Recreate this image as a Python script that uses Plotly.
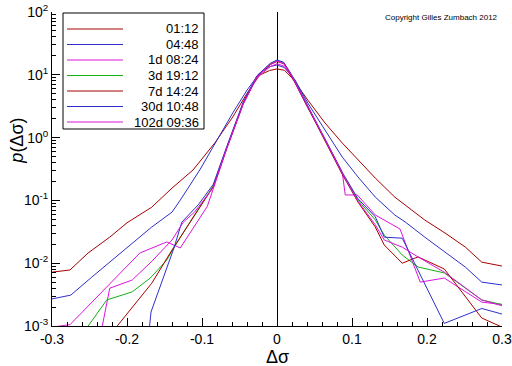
import plotly.graph_objects as go

# ---------------- data ----------------
labels = ["01:12", "04:48", "1d 08:24", "3d 19:12", "7d 14:24", "30d 10:48", "102d 09:36"]
colors = ["#a50000", "#2f2fc8", "#dc14dc", "#14b014", "#a50000", "#2f2fc8", "#dc14dc"]

x_0112 = [-0.3, -0.276, -0.252, -0.223, -0.2, -0.167, -0.14, -0.112, -0.083, -0.059, -0.039, -0.023, -0.01, 0,
          0.01, 0.02, 0.041, 0.064, 0.087, 0.108, 0.131, 0.157, 0.171, 0.197, 0.224, 0.251, 0.273, 0.3]
y_0112 = [0.0072, 0.0078, 0.0145, 0.026, 0.044, 0.078, 0.157, 0.305, 0.82, 2.13, 5.3, 9.9, 11.7, 12.4,
          11.8, 8.9, 3.97, 1.71, 0.82, 0.44, 0.227, 0.113, 0.0845, 0.0487, 0.0303, 0.0181, 0.0104, 0.009]

x_0448 = [-0.3, -0.275, -0.247, -0.22, -0.193, -0.167, -0.14, -0.129, -0.103, -0.08, -0.059, -0.04, -0.023, -0.01, 0,
          0.01, 0.024, 0.041, 0.064, 0.087, 0.108, 0.131, 0.157, 0.171, 0.197, 0.224, 0.251, 0.273, 0.3]
y_0448 = [0.0027, 0.0031, 0.006, 0.0112, 0.021, 0.0377, 0.065, 0.101, 0.305, 0.92, 2.47, 5.7, 10.7, 13.5, 14.3,
          13.0, 8.3, 3.56, 1.32, 0.49, 0.236, 0.113, 0.0586, 0.0453, 0.026, 0.0151, 0.0087, 0.005, 0.0045]

x_1d = [-0.3, -0.276, -0.183, -0.147, -0.129, -0.093, -0.067, -0.045, -0.027, -0.009, 0, 0.009, 0.02, 0.041,
        0.064, 0.087, 0.091, 0.107, 0.131, 0.164, 0.191, 0.223, 0.273, 0.3]
y_1d = [0.00096, 0.00105, 0.0145, 0.0218, 0.0175, 0.08, 0.66, 3.4, 8.9, 13.5, 15.0, 13.8, 9.2, 3.0,
        0.95, 0.28, 0.122, 0.122, 0.0586, 0.035, 0.005, 0.0058, 0.0024, 0.0022]

x_3d = [-0.265, -0.227, -0.193, -0.169, -0.147, -0.137, -0.112, -0.085, -0.067, -0.045, -0.027, -0.009, 0, 0.009,
        0.02, 0.041, 0.064, 0.087, 0.108, 0.131, 0.143, 0.167, 0.188, 0.223, 0.273, 0.3]
y_3d = [0.0006, 0.0026, 0.0035, 0.0058, 0.0112, 0.018, 0.054, 0.17, 0.7, 3.6, 9.4, 15.0, 17.0, 15.6,
        9.6, 3.1, 0.92, 0.27, 0.101, 0.049, 0.028, 0.0135, 0.0087, 0.007, 0.0026, 0.0022]

x_7d = [-0.2215, -0.167, -0.14, -0.112, -0.085, -0.067, -0.045, -0.027, -0.009, 0, 0.009, 0.02, 0.041, 0.064,
        0.087, 0.108, 0.131, 0.143, 0.167, 0.188, 0.223, 0.273, 0.3]
y_7d = [0.00075, 0.0048, 0.0162, 0.054, 0.165, 0.68, 3.5, 9.2, 14.5, 16.3, 15.0, 9.3, 3.0, 0.9,
        0.26, 0.094, 0.0377, 0.0195, 0.01, 0.0126, 0.0081, 0.00134, 0.00096]

x_30d = [-0.1707, -0.168, -0.137, -0.127, -0.105, -0.085, -0.067, -0.045, -0.027, -0.009, 0, 0.009, 0.02, 0.041,
         0.064, 0.087, 0.108, 0.131, 0.143, 0.167, 0.223, 0.273, 0.3]
y_30d = [0.0008, 0.00167, 0.018, 0.045, 0.085, 0.18, 0.72, 3.7, 9.6, 15.2, 17.2, 15.8, 9.8, 3.2,
         0.95, 0.28, 0.106, 0.055, 0.026, 0.025, 0.0011, 0.0019, 0.00155]

x_102d = [-0.2333, -0.223, -0.193, -0.167, -0.14, -0.125, -0.11, -0.085, -0.067, -0.045, -0.027, -0.009, 0, 0.009,
          0.02, 0.041, 0.064, 0.087, 0.107, 0.131, 0.143, 0.167, 0.188, 0.223, 0.273, 0.3]
y_102d = [0.00095, 0.004, 0.0054, 0.0107, 0.0234, 0.045, 0.065, 0.16, 0.68, 3.5, 9.3, 14.8, 16.5, 15.2,
          9.5, 3.05, 0.93, 0.27, 0.101, 0.041, 0.0234, 0.018, 0.0126, 0.0072, 0.0026, 0.0021]

x_ticks = [-0.3, -0.2, -0.1, 0, 0.1, 0.2, 0.3]
x_ticktext = ["-0.3", "-0.2", "-0.1", "0", "0.1", "0.2", "0.3"]
y_ticks = [1e-3, 1e-2, 1e-1, 1e0, 1e1, 1e2]
y_ticktext = ["10<sup>-3</sup>", "10<sup>-2</sup>", "10<sup>-1</sup>", "10<sup>0</sup>", "10<sup>1</sup>", "10<sup>2</sup>"]

series_x = [x_0112, x_0448, x_1d, x_3d, x_7d, x_30d, x_102d]
series_y = [y_0112, y_0448, y_1d, y_3d, y_7d, y_30d, y_102d]

FONT = "Liberation Sans, Arial, sans-serif"

fig = go.Figure()
for xs, ys, c, lab in zip(series_x, series_y, colors, labels):
    fig.add_trace(go.Scatter(x=xs, y=ys, mode="lines", name=lab,
                             line=dict(color=c, width=1), showlegend=False))

minor_y = [k * 10 ** e for e in range(-3, 2) for k in range(2, 10)]

fig.update_layout(
    width=512, height=366,
    margin=dict(l=52, r=10, t=12, b=40, autoexpand=False),
    paper_bgcolor="white", plot_bgcolor="white",
    font=dict(family=FONT, color="black", size=14),
    xaxis=dict(range=[-0.3, 0.3], tickmode="array", tickvals=x_ticks, ticktext=x_ticktext,
               ticks="inside", ticklen=8, tickwidth=1, tickcolor="black", automargin=False,
               showline=True, linecolor="black", linewidth=1, showgrid=False,
               zeroline=True, zerolinecolor="black", zerolinewidth=1,
               minor=dict(ticks="inside", ticklen=4, dtick=0.02, tick0=0, tickcolor="black", showgrid=False),
               tickfont=dict(size=14)),
    yaxis=dict(type="log", range=[-3, 2], tickmode="array", tickvals=y_ticks, ticktext=y_ticktext,
               ticks="inside", ticklen=8, tickwidth=1, tickcolor="black", automargin=False,
               showline=True, linecolor="black", linewidth=1, showgrid=False, zeroline=False,
               minor=dict(ticks="inside", ticklen=4, tickmode="array", tickvals=minor_y,
                          tickcolor="black", showgrid=False),
               tickfont=dict(size=14)),
)

# axis titles
fig.add_annotation(text="Δσ", xref="paper", yref="paper", x=0.5, y=-0.098,
                   yanchor="middle", xanchor="center", showarrow=False, font=dict(size=18))
fig.add_annotation(text="<i>p</i>(Δσ)", xref="paper", yref="paper", x=-0.078, y=0.59,
                   xanchor="center", yanchor="middle", textangle=-90, showarrow=False, font=dict(size=18))

# copyright
fig.add_annotation(text="Copyright Gilles Zumbach 2012", xref="paper", yref="paper", x=0.995, y=0.982,
                   xanchor="right", yanchor="middle", showarrow=False, font=dict(size=8))

# custom legend box (lines left, labels right-aligned)
def px_x(p):
    return (p - 52) / 450.0

def px_y(p):
    return (326 - p) / 314.0

fig.add_shape(type="rect", xref="paper", yref="paper", x0=px_x(63), x1=px_x(204), y0=px_y(129), y1=px_y(13),
              line=dict(color="black", width=1), fillcolor="white", layer="above")
row_y = [29, 44.5, 60, 75.5, 91, 106.5, 122]
for ry, c, lab in zip(row_y, colors, labels):
    fig.add_shape(type="line", xref="paper", yref="paper", x0=px_x(67), x1=px_x(123), y0=px_y(ry), y1=px_y(ry),
                  line=dict(color=c, width=1), layer="above")
    fig.add_annotation(text=lab, xref="paper", yref="paper", x=px_x(201), y=px_y(ry),
                       xanchor="right", yanchor="middle", showarrow=False, font=dict(size=13))

fig.write_html("out.html", config={"displayModeBar": False},
               post_script="document.body.style.margin='0';document.body.style.padding='0';")
